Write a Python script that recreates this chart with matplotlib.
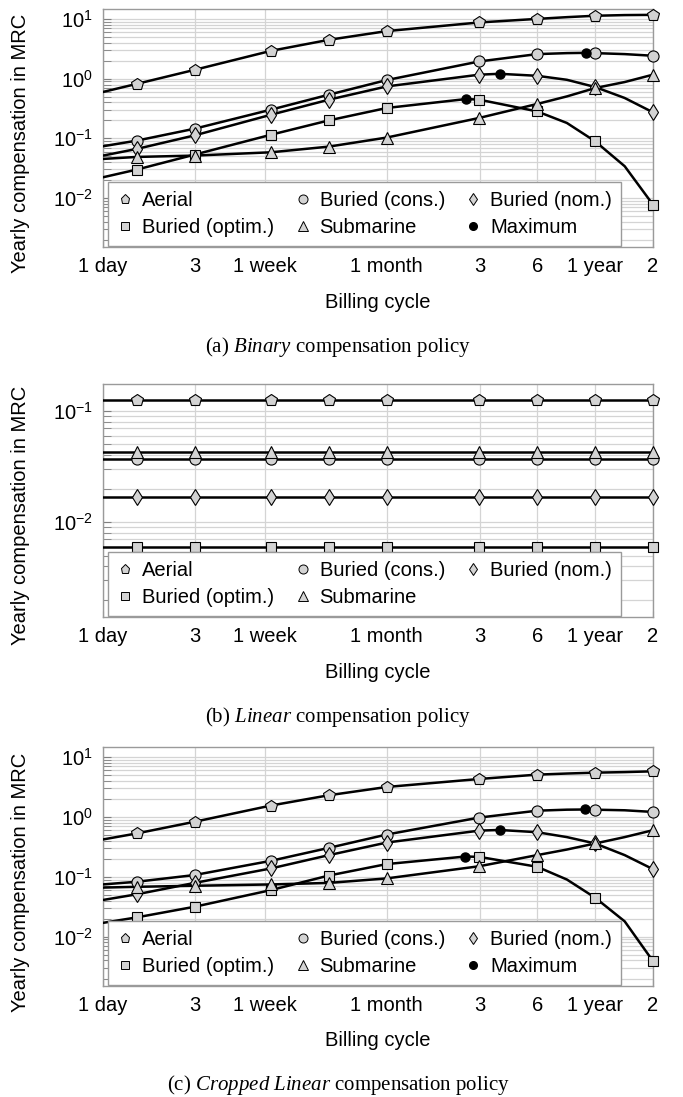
import matplotlib
matplotlib.use("Agg")
import matplotlib.pyplot as plt
from matplotlib.lines import Line2D
from matplotlib.ticker import NullLocator, NullFormatter

plt.rcParams['font.family'] = ['Liberation Sans', 'DejaVu Sans']
plt.rcParams['mathtext.fontset'] = 'custom'
plt.rcParams['mathtext.rm'] = 'Liberation Serif'
plt.rcParams['mathtext.it'] = 'Liberation Serif:italic'

# x axis: billing cycle in days
tick_days = [1, 3, 7, 30, 91.25, 182.5, 365, 730]
tick_labels = ["1 day", "3", "1 week", "1 month", "3", "6", "1 year", "2"]

line_days = [1, 1.5, 3, 7.5, 15, 30, 91, 182, 260, 365, 520, 730]
mark_days = [1.5, 3, 7.5, 15, 30, 91, 182, 365, 730]

names = ["Aerial", "Buried (cons.)", "Buried (nom.)", "Buried (optim.)", "Submarine"]
markers = ['p', 'o', 'd', 's', '^']
marker_sizes = [9, 8, 8.5, 7.5, 8.5]

# (a) Binary compensation policy
binary_aerial = [0.60, 0.82, 1.41, 2.94, 4.5, 6.3, 8.8, 10.1, 10.8, 11.4, 11.7, 11.8]
binary_cons = [0.0736, 0.0915, 0.145, 0.303, 0.54, 0.95, 1.95, 2.59, 2.69, 2.69, 2.59, 2.43]
binary_nom = [0.0513, 0.0664, 0.112, 0.249, 0.445, 0.743, 1.17, 1.12, 0.96, 0.726, 0.475, 0.273]
binary_optim = [0.0222, 0.0299, 0.0533, 0.115, 0.2, 0.323, 0.445, 0.283, 0.181, 0.089, 0.034, 0.0077]
binary_sub = [0.0451, 0.0487, 0.0513, 0.0583, 0.0726, 0.103, 0.22, 0.377, 0.505, 0.698, 0.88, 1.17]
binary_max_days = [327, 116, 78]      # cons, nom, optim
binary_max_vals = [2.72, 1.21, 0.457]

# (b) Linear compensation policy (flat)
linear_level = [0.126, 0.037, 0.0167, 0.006, 0.043]

# (c) Cropped Linear compensation policy
crop_aerial = [0.42, 0.53, 0.83, 1.55, 2.3, 3.16, 4.3, 5.08, 5.3, 5.48, 5.6, 5.77]
crop_cons = [0.0745, 0.0826, 0.107, 0.185, 0.304, 0.508, 0.975, 1.27, 1.32, 1.32, 1.29, 1.21]
crop_nom = [0.041, 0.051, 0.079, 0.138, 0.23, 0.373, 0.59, 0.555, 0.46, 0.36, 0.23, 0.134]
crop_optim = [0.017, 0.021, 0.0316, 0.06, 0.105, 0.163, 0.215, 0.147, 0.09, 0.0447, 0.018, 0.0039]
crop_sub = [0.066, 0.068, 0.0708, 0.0745, 0.079, 0.094, 0.15, 0.23, 0.285, 0.36, 0.46, 0.6]
crop_max_days = [325, 116, 77]
crop_max_vals = [1.33, 0.605, 0.218]

fill = '#d3d3d3'
grid_col = '#d4d4d4'
spine_col = '#9a9a9a'
fs = 14.5

mark_idx = [line_days.index(d) for d in mark_days]

fig = plt.figure(figsize=(6.83, 10.97), dpi=100)
W, H = 683.0, 1097.0


def make_axes(top, bottom):
    return fig.add_axes([103 / W, 1 - bottom / H, 550 / W, (bottom - top) / H])


def style_axes(ax, ylim, height_px):
    ax.set_xscale('log')
    ax.set_yscale('log')
    ax.set_xlim(1, 730)
    ax.set_ylim(*ylim)
    ax.set_xticks(tick_days)
    ax.set_xticklabels(tick_labels)
    ax.xaxis.set_minor_locator(NullLocator())
    ax.yaxis.set_minor_formatter(NullFormatter())
    ax.grid(True, which='major', axis='x', color=grid_col, lw=0.9)
    ax.grid(True, which='both', axis='y', color=grid_col, lw=0.9)
    ax.set_axisbelow(True)
    ax.tick_params(which='both', direction='in', color='#808080', labelsize=fs)
    ax.tick_params(axis='x', length=4, pad=7)
    ax.tick_params(axis='y', which='major', length=6, pad=7)
    ax.tick_params(axis='y', which='minor', length=6)
    for s in ax.spines.values():
        s.set_color(spine_col)
        s.set_linewidth(1.0)
    ax.set_ylabel("Yearly compensation in MRC", fontsize=fs)
    ax.yaxis.label.set_va('center')
    ax.yaxis.set_label_coords(-0.150, 0.435)
    ax.set_xlabel("Billing cycle", fontsize=fs)
    ax.xaxis.label.set_va('center')
    ax.xaxis.set_label_coords(0.5, -55 / height_px)


def draw_series(ax, series, max_days=None, max_vals=None):
    for i, vals in enumerate(series):
        xs = list(line_days)
        ys = list(vals)
        # the maxima sit on the buried curves (cons, nom, optim)
        if max_days is not None and 1 <= i <= 3:
            xs.append(max_days[i - 1])
            ys.append(max_vals[i - 1])
            pts = sorted(zip(xs, ys))
            xs = [p[0] for p in pts]
            ys = [p[1] for p in pts]
        ax.plot(xs, ys, color='black', lw=1.8, zorder=3)
        ax.plot(mark_days, [vals[j] for j in mark_idx], linestyle='none',
                marker=markers[i], ms=marker_sizes[i], mfc=fill, mec='black',
                mew=0.8, zorder=4, clip_on=False)
    if max_days is not None:
        ax.plot(max_days, max_vals, linestyle='none', marker='o', ms=6.5,
                color='black', zorder=5, clip_on=False)


def add_legend(ax, with_max):
    h = [Line2D([], [], linestyle='none', marker=markers[i], ms=6.5 if i != 3 else 6,
                mfc=fill, mec='black', mew=0.7) for i in range(5)]
    order = [0, 3, 1, 4, 2]
    handles = [h[i] for i in order]
    labels = [names[i] for i in order]
    if with_max:
        handles.append(Line2D([], [], linestyle='none', marker='o', ms=5.5, color='black'))
        labels.append("Maximum")
    leg = ax.legend(handles, labels, ncol=3, loc='lower left',
                    bbox_to_anchor=(0.009, 0.004), borderaxespad=0,
                    fontsize=fs, handlelength=0.8, handletextpad=0.45,
                    columnspacing=1.0, borderpad=0.45, labelspacing=0.38,
                    fancybox=False, framealpha=1, edgecolor=spine_col)
    leg.get_frame().set_linewidth(1.0)
    leg.set_zorder(10)


# (a)
ax_a = make_axes(9, 247)
draw_series(ax_a, [binary_aerial, binary_cons, binary_nom, binary_optim, binary_sub],
            binary_max_days, binary_max_vals)
style_axes(ax_a, (1.5e-3, 14.8), 238)
add_legend(ax_a, True)

# (b)
ax_b = make_axes(384, 617)
draw_series(ax_b, [[lv] * len(line_days) for lv in linear_level])
style_axes(ax_b, (1.4e-3, 0.175), 233)
add_legend(ax_b, False)

# (c)
ax_c = make_axes(747, 986)
draw_series(ax_c, [crop_aerial, crop_cons, crop_nom, crop_optim, crop_sub],
            crop_max_days, crop_max_vals)
style_axes(ax_c, (1.5e-3, 14.7), 239)
add_legend(ax_c, True)

# captions
cap = dict(family='Liberation Serif', size=15, ha='center', va='center')
fig.text(338 / W, 1 - 347 / H, r"(a) $\mathit{Binary}$ compensation policy", **cap)
fig.text(338 / W, 1 - 717 / H, r"(b) $\mathit{Linear}$ compensation policy", **cap)
fig.text(338 / W, 1 - 1085 / H, r"(c) $\mathit{Cropped\ Linear}$ compensation policy", **cap)

fig.savefig("out.png", dpi=100)
